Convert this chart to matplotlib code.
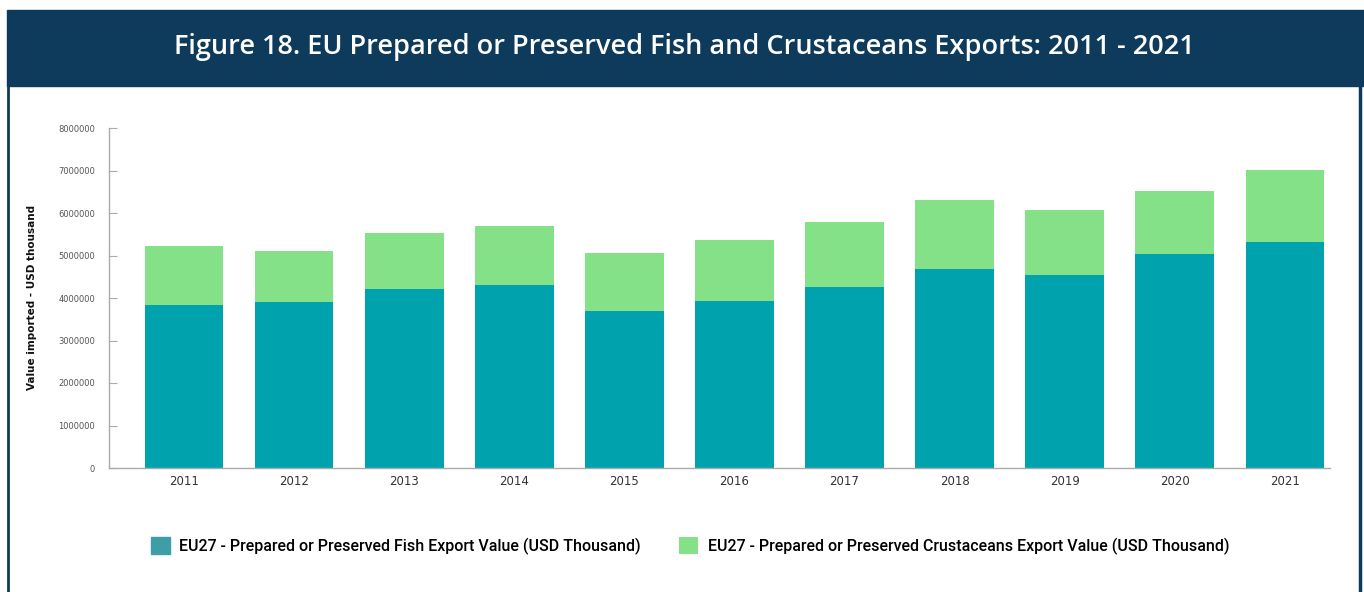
import matplotlib.pyplot as plt
from matplotlib.patches import Rectangle
from matplotlib.lines import Line2D

# values, USD thousand
years = ['2011', '2012', '2013', '2014', '2015', '2016', '2017', '2018', '2019', '2020', '2021']
fish = [3840000, 3900000, 4215000, 4295000, 3690000, 3925000, 4255000, 4675000, 4530000, 5025000, 5315000]
total = [5220000, 5105000, 5540000, 5695000, 5065000, 5365000, 5790000, 6315000, 6070000, 6515000, 7010000]
crustaceans = [t - f for t, f in zip(total, fish)]

fish_label = 'EU27 - Prepared or Preserved Fish Export Value (USD Thousand)'
crust_label = 'EU27 - Prepared or Preserved Crustaceans Export Value (USD Thousand)'
title = 'Figure 18. EU Prepared or Preserved Fish and Crustaceans Exports: 2011 - 2021'

NAVY = '#0e3b5b'
TEAL = '#00a3ad'
GREEN = '#85e187'

W, H = 1364, 592
fig = plt.figure(figsize=(W / 100, H / 100), dpi=100)

# header band and side borders
fig.patches.append(Rectangle((7 / W, 1 - 86 / H), 1 - 7 / W, 76 / H,
                             transform=fig.transFigure, color=NAVY, zorder=0))
fig.lines.append(Line2D([7.5 / W, 7.5 / W], [0, 1 - 86 / H], transform=fig.transFigure,
                        color=NAVY, linewidth=2))
fig.lines.append(Line2D([1359.5 / W, 1359.5 / W], [0, 1 - 86 / H], transform=fig.transFigure,
                        color=NAVY, linewidth=2.5))
fig.text(684 / W, 1 - 47 / H, title, color='white', fontsize=19.5, fontweight='semibold',
         family='Open Sans', ha='center', va='center')

ax = fig.add_axes([109 / W, 1 - 468 / H, (1330 - 109) / W, (468 - 128) / H])
x = range(len(years))
ax.bar(x, fish, width=0.715, color=TEAL, label=fish_label, zorder=2)
ax.bar(x, crustaceans, width=0.715, bottom=fish, color=GREEN, label=crust_label, zorder=2)

ax.set_xlim(-0.681, 10.41)
ax.set_ylim(0, 8000000)
ax.set_yticks(range(0, 8000001, 1000000))
ax.set_yticklabels([str(v) for v in range(0, 8000001, 1000000)], fontsize=6, color='#555555')
ax.set_xticks(list(x))
ax.set_xticklabels(years, fontsize=8.5, color='#333333')
ax.tick_params(axis='y', direction='in', length=6, width=0.8, color='#aaaaaa', pad=10)
ax.tick_params(axis='x', length=0, pad=5)
for side in ['top', 'right']:
    ax.spines[side].set_visible(False)
for side in ['left', 'bottom']:
    ax.spines[side].set_color('#aaaaaa')
    ax.spines[side].set_linewidth(1)

fig.text(32 / W, 1 - 297 / H, 'Value imported - USD thousand', rotation=90, fontsize=7.5,
         fontweight='bold', ha='center', va='center', color='#111111')

handles, labels = ax.get_legend_handles_labels()
handles[0] = Rectangle((0, 0), 1, 1, color='#3e9ea8')
fig.legend(handles, labels, loc='center', bbox_to_anchor=(690 / W, 1 - 546 / H),
           ncol=2, frameon=False, handlelength=1.2, handleheight=1.2, handletextpad=0.6,
           columnspacing=2.4, prop={'family': 'Roboto', 'weight': 'medium', 'size': 11.5})

fig.savefig('out.png', dpi=100)
